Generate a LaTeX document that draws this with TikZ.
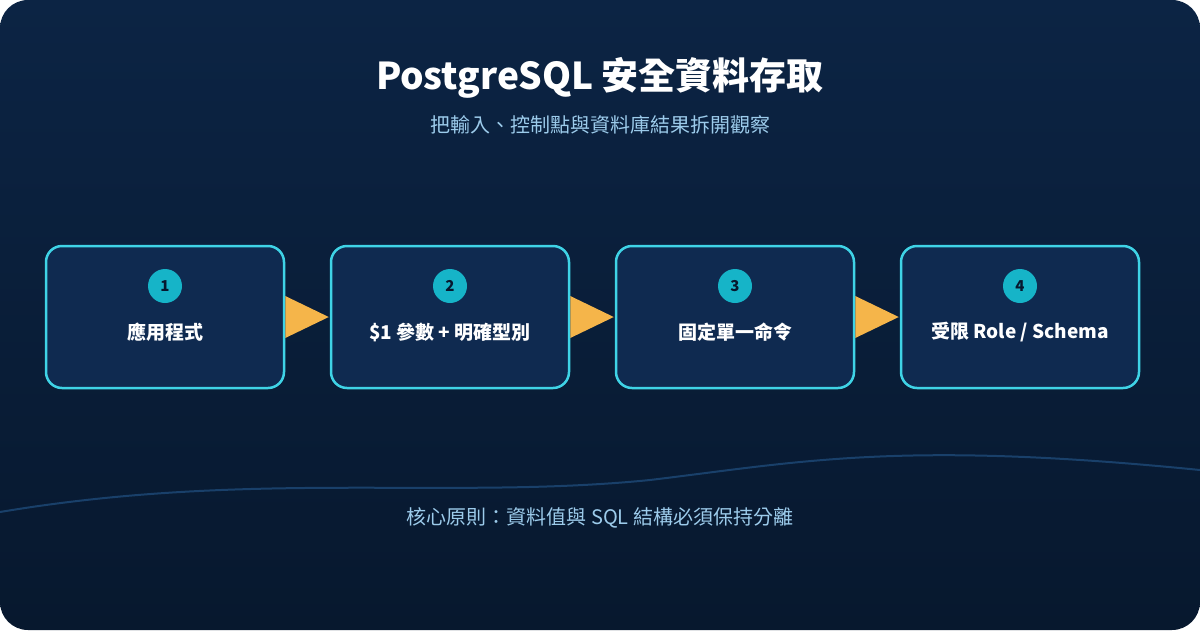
\documentclass[tikz,border=0pt]{standalone}
\usepackage{fontspec}
\setmainfont{Noto Sans CJK TC}
\definecolor{bgA}{HTML}{0C2444}
\definecolor{bgB}{HTML}{07182E}
\definecolor{boxfill}{HTML}{0F2A50}
\definecolor{boxline}{HTML}{3FD3E6}
\definecolor{badge}{HTML}{16B4C8}
\definecolor{arrowc}{HTML}{F5B54A}
\definecolor{subc}{HTML}{9CCBEB}
\definecolor{wavec}{HTML}{1E4A78}
\begin{document}
\begin{tikzpicture}[x=1pt,y=-1pt,
  stagebox/.style={draw=boxline,line width=2.5pt,fill=boxfill,rounded corners=16pt,minimum width=238pt,minimum height=142pt},
  num/.style={circle,fill=badge,minimum size=34pt,inner sep=0pt,text=bgB,font=\fontsize{15}{15}\selectfont\bfseries},
  lab/.style={text=white,font=\fontsize{19}{19}\selectfont\bfseries},
  tri/.style={fill=arrowc}]
\useasboundingbox (0,0) rectangle (1200,630);
\fill[white] (0,0) rectangle (1200,630);
\shade[top color=bgA,bottom color=bgB,rounded corners=28pt] (0,0) rectangle (1200,630);
\draw[wavec,line width=2pt,opacity=0.8] (0,512) .. controls (250,470) and (450,500) .. (650,480) .. controls (800,462) and (900,440) .. (1200,470);
\node[text=white,font=\fontsize{37}{37}\selectfont\bfseries] (title) at (600,78) {PostgreSQL 安全資料存取};
\node[text=subc,font=\fontsize{20}{20}\selectfont] (sub) at (600,125) {把輸入、控制點與資料庫結果拆開觀察};
\foreach \i/\x/\t in {1/165/{應用程式},2/450/{\$1 參數 + 明確型別},3/735/{固定單一命令},4/1020/{受限 Role / Schema}}{
  \node[stagebox] (b\i) at (\x,317) {};
  \node[num] (n\i) at (\x,286) {\i};
  \node[lab] (l\i) at (\x,332) {\t};
}
\foreach \a/\b in {1/2,2/3,3/4}{
  \fill[tri] ([yshift=-21pt]b\a.east) -- ([xshift=-1pt]b\b.west) -- ([yshift=21pt]b\a.east) -- cycle;
}
\node[text=subc,font=\fontsize{20}{20}\selectfont] (foot) at (600,518) {核心原則：資料值與 SQL 結構必須保持分離};
\end{tikzpicture}
\end{document}
